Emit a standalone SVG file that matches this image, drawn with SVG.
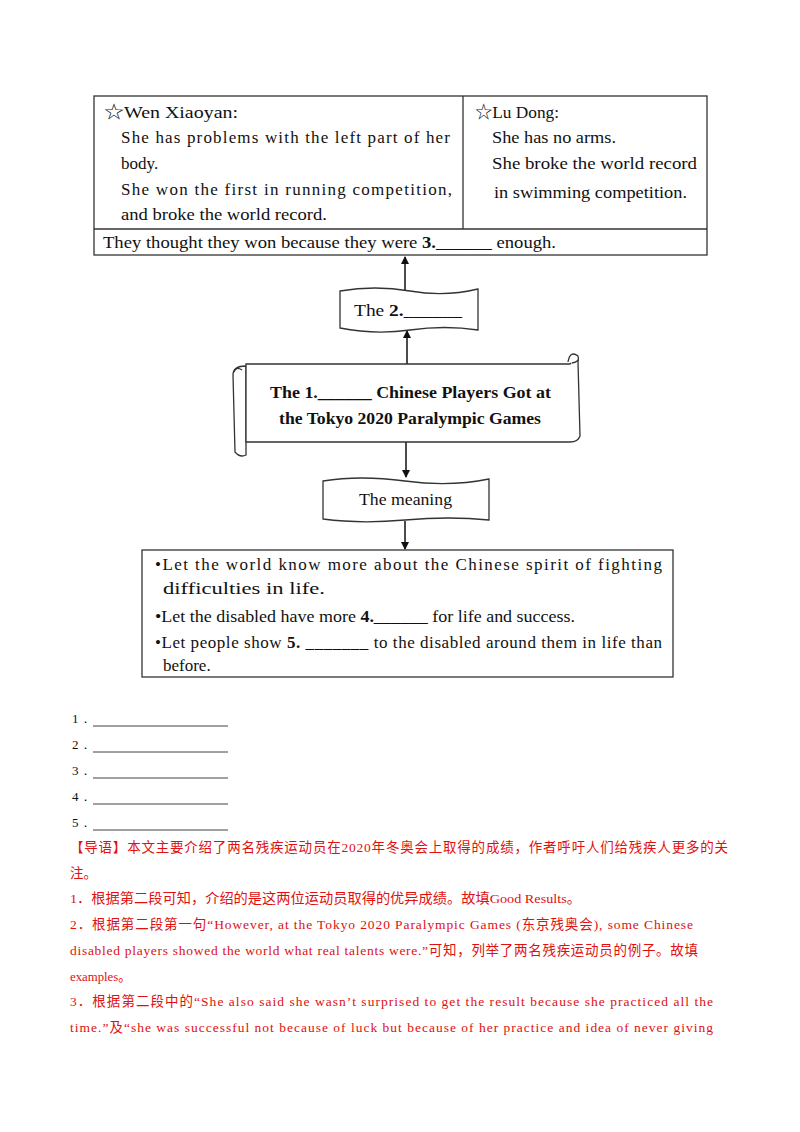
<svg xmlns="http://www.w3.org/2000/svg" width="800" height="1132" viewBox="0 0 800 1132">
<style>
.t{font-family:"Liberation Serif","Noto Sans CJK SC",serif;font-size:17px;fill:#111}
.b{font-weight:bold}
.r{font-family:"Liberation Serif","Noto Sans CJK SC",serif;font-size:13.5px;fill:#e01010}
.k{font-family:"Liberation Serif",serif;font-size:13px;fill:#111}
.box{fill:#fff;stroke:#333;stroke-width:1.3}
.ln{stroke:#111;stroke-width:1.5;fill:none}
</style>
<defs><marker id="ah" markerWidth="8" markerHeight="8" refX="7" refY="4" orient="auto" markerUnits="userSpaceOnUse"><path d="M0,0 L8,4 L0,8 Z" fill="#111"/></marker></defs>
<rect width="800" height="1132" fill="#fff"/>
<g id="info-table">
<rect class="box" x="94" y="96" width="613" height="159"/>
<line class="box" x1="463" y1="96" x2="463" y2="229"/>
<line class="box" x1="94" y1="229" x2="707" y2="229"/>
<text class="t" x="104" y="118" textLength="134" lengthAdjust="spacingAndGlyphs">☆Wen Xiaoyan:</text>
<text class="t" x="121" y="143" textLength="329" lengthAdjust="spacing">She has problems with the left part of her</text>
<text class="t" x="121" y="169">body.</text>
<text class="t" x="121" y="195" textLength="331" lengthAdjust="spacing">She won the first in running competition,</text>
<text class="t" x="121" y="220" textLength="206" lengthAdjust="spacingAndGlyphs">and broke the world record.</text>
<text class="t" x="475" y="118" textLength="84" lengthAdjust="spacingAndGlyphs">☆Lu Dong:</text>
<text class="t" x="492" y="143" textLength="124" lengthAdjust="spacingAndGlyphs">She has no arms.</text>
<text class="t" x="492" y="169" textLength="205" lengthAdjust="spacingAndGlyphs">She broke the world record</text>
<text class="t" x="494" y="198" textLength="193" lengthAdjust="spacingAndGlyphs">in swimming competition.</text>
<text class="t" x="103" y="248" textLength="453" lengthAdjust="spacingAndGlyphs">They thought they won because they were <tspan class="b">3.</tspan>______ enough.</text>
</g>
<g id="connectors">
<line class="ln" x1="405" y1="290" x2="405" y2="257" marker-end="url(#ah)"/>
<line class="ln" x1="407" y1="365" x2="407" y2="331" marker-end="url(#ah)"/>
<line class="ln" x1="406" y1="442" x2="406" y2="477" marker-end="url(#ah)"/>
<line class="ln" x1="405" y1="521" x2="405" y2="549" marker-end="url(#ah)"/>
</g>
<g id="node-the2">
<path class="box" d="M340,291 Q375,285 410,291 T478,289 L478,330 Q445,325 410,330 T340,328 Z"/>
<text class="t" x="354" y="316" textLength="108" lengthAdjust="spacingAndGlyphs">The <tspan class="b">2.</tspan>______</text>
</g>
<g id="node-title">
<path class="box" d="M246,366 L246,455 Q240,458 235,452 L233,375 Q233,366 246,366 Z"/>
<path class="box" d="M246,364 L570,364 Q580,352 578,362 L580,436 Q578,442 570,442 L246,442 Z"/>
<path class="box" d="M234,372 Q236,366 242,370" />
<path class="box" d="M568,362 Q570,350 578,356 Q580,362 572,363" />
<text class="t b" x="270" y="398" textLength="281" lengthAdjust="spacingAndGlyphs">The 1.______ Chinese Players Got at</text>
<text class="t b" x="279" y="424" textLength="262" lengthAdjust="spacingAndGlyphs">the Tokyo 2020 Paralympic Games</text>
</g>
<g id="node-meaning">
<path class="box" d="M323,481 Q360,475 405,481 T489,479 L489,520 Q450,516 405,520 T323,519 Z"/>
<text class="t" x="359" y="505" textLength="93" lengthAdjust="spacingAndGlyphs">The meaning</text>
</g>
<g id="meaning-list">
<rect class="box" x="142" y="550" width="531" height="127"/>
<text class="t" x="155" y="570" textLength="507" lengthAdjust="spacing">•Let the world know more about the Chinese spirit of fighting</text>
<text class="t" x="163" y="594" textLength="162" lengthAdjust="spacingAndGlyphs">difficulties in life.</text>
<text class="t" x="155" y="622" textLength="420" lengthAdjust="spacingAndGlyphs">•Let the disabled have more <tspan class="b">4.</tspan>______ for life and success.</text>
<text class="t" x="155" y="648" textLength="507" lengthAdjust="spacing">•Let people show <tspan class="b">5.</tspan> _______ to the disabled around them in life than</text>
<text class="t" x="163" y="671">before.</text>
</g>
<g id="answers">
<text class="k" x="72" y="723">1．</text><line x1="93" y1="726" x2="228" y2="726" stroke="#111" stroke-width="0.8"/>
<text class="k" x="72" y="749">2．</text><line x1="93" y1="752" x2="228" y2="752" stroke="#111" stroke-width="0.8"/>
<text class="k" x="72" y="775">3．</text><line x1="93" y1="778" x2="228" y2="778" stroke="#111" stroke-width="0.8"/>
<text class="k" x="72" y="801">4．</text><line x1="93" y1="804" x2="228" y2="804" stroke="#111" stroke-width="0.8"/>
<text class="k" x="72" y="827">5．</text><line x1="93" y1="830" x2="228" y2="830" stroke="#111" stroke-width="0.8"/>
</g>
<g id="explanation">
<text class="r" x="70" y="852" textLength="658" lengthAdjust="spacing">【导语】本文主要介绍了两名残疾运动员在2020年冬奥会上取得的成绩，作者呼吁人们给残疾人更多的关</text>
<text class="r" x="70" y="878">注。</text>
<text class="r" x="70" y="903" textLength="511" lengthAdjust="spacingAndGlyphs">1．根据第二段可知，介绍的是这两位运动员取得的优异成绩。故填Good Results。</text>
<text class="r" x="70" y="929" textLength="623" lengthAdjust="spacing">2．根据第二段第一句“However, at the Tokyo 2020 Paralympic Games (东京残奥会), some Chinese</text>
<text class="r" x="70" y="955" textLength="628" lengthAdjust="spacing">disabled players showed the world what real talents were.”可知，列举了两名残疾运动员的例子。故填</text>
<text class="r" x="70" y="981" textLength="61" lengthAdjust="spacingAndGlyphs">examples。</text>
<text class="r" x="70" y="1006" textLength="643" lengthAdjust="spacing">3．根据第二段中的“She also said she wasn’t surprised to get the result because she practiced all the</text>
<text class="r" x="70" y="1032" textLength="643" lengthAdjust="spacing">time.”及“she was successful not because of luck but because of her practice and idea of never giving</text>
</g>
</svg>
